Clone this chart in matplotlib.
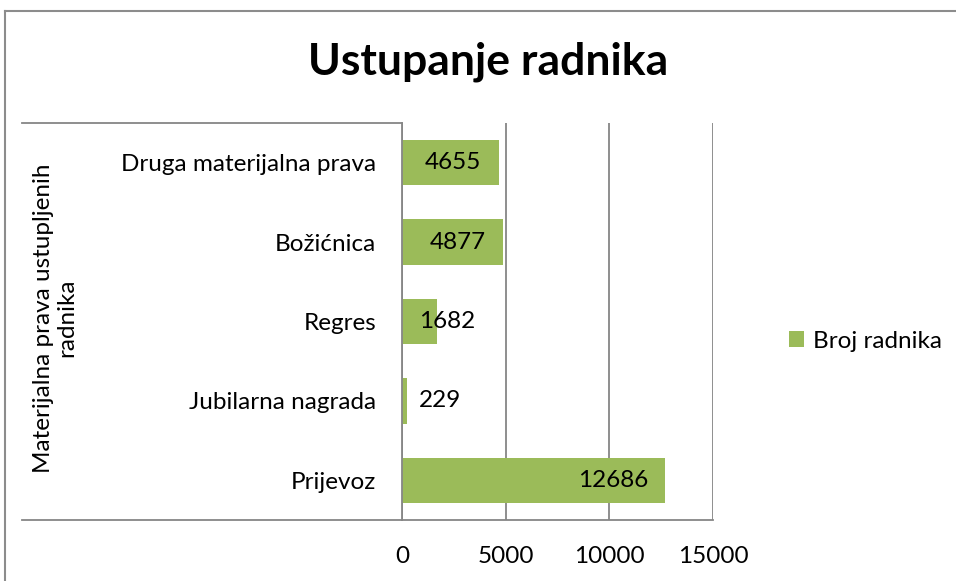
import matplotlib
matplotlib.use("Agg")
import matplotlib.pyplot as plt
from matplotlib.lines import Line2D
from matplotlib.patches import Patch

plt.rcParams['font.family'] = ['Lato', 'DejaVu Sans']

categories = ["Prijevoz", "Jubilarna nagrada", "Regres", "Božićnica", "Druga materijalna prava"]
values = [12686, 229, 1682, 4877, 4655]
xticks = [0, 5000, 10000, 15000]
title = "Ustupanje radnika"
ylabel = "Materijalna prava ustupljenih\nradnika"
series_name = "Broj radnika"
bar_color = "#9BBB59"
grid_color = "#868686"

W, H = 956, 581
fig = plt.figure(figsize=(W / 100, H / 100), dpi=100)
FS = 17.5

def fx(px):
    return px / W

def fy(py):
    return 1 - py / H

ax = fig.add_axes([fx(402), fy(520), fx(713) - fx(402), fy(123) - fy(520)])
y = list(range(len(categories)))
ax.barh(y, values, height=0.57, color=bar_color, zorder=3)
ax.set_xlim(0, 15000)
ax.set_ylim(-0.5, len(categories) - 0.5)
ax.set_xticks(xticks)
ax.set_xticklabels([str(t) for t in xticks], fontsize=FS)
ax.set_yticks(y)
ax.set_yticklabels(categories, fontsize=FS)
ax.tick_params(axis='both', length=0)
ax.tick_params(axis='y', pad=18.5)
ax.tick_params(axis='x', pad=19)
ax.grid(axis='x', color=grid_color, linewidth=1.3, zorder=1)
for s in ['top', 'right']:
    ax.spines[s].set_visible(False)
ax.spines['left'].set_color(grid_color)
ax.spines['left'].set_linewidth(1.3)
ax.spines['bottom'].set_color(grid_color)
ax.spines['bottom'].set_linewidth(1.3)
ax.spines['left'].set_zorder(4)

px_per_unit = (713 - 402) / 15000
for yi, v in zip(y, values):
    if v * px_per_unit > 80:
        ax.annotate(str(v), xy=(v, yi), xytext=(-17, 0), textcoords='offset pixels',
                    ha='right', va='center', fontsize=FS, zorder=5)
    else:
        ax.annotate(str(v), xy=(0, yi), xytext=(17, 0), textcoords='offset pixels',
                    ha='left', va='center', fontsize=FS, zorder=5)

# multi-level category frame lines
fig.add_artist(Line2D([fx(22), fx(402)], [fy(123), fy(123)], color=grid_color, lw=1.3))
fig.add_artist(Line2D([fx(22), fx(402)], [fy(520), fy(520)], color=grid_color, lw=1.3))

# outer chart border (top and left visible)
fig.add_artist(Line2D([fx(5), fx(956)], [fy(11), fy(11)], color="#8c8c8c", lw=1.5))
fig.add_artist(Line2D([fx(5), fx(5)], [fy(11), fy(581)], color="#8c8c8c", lw=1.5))

fig.text(fx(488), fy(62), title, fontsize=32, fontweight='bold', ha='center', va='center')
fig.text(fx(55), fy(318), ylabel, fontsize=FS, rotation=90, ha='center', va='center',
         linespacing=1.1)

fig.legend(handles=[Patch(facecolor=bar_color, edgecolor='none')], labels=[series_name],
           loc='center left', bbox_to_anchor=(fx(789), fy(341)), frameon=False,
           fontsize=FS, handlelength=0.6, handleheight=0.6, handletextpad=0.4,
           borderaxespad=0, borderpad=0)

fig.savefig("out.png", dpi=100, facecolor='white')
